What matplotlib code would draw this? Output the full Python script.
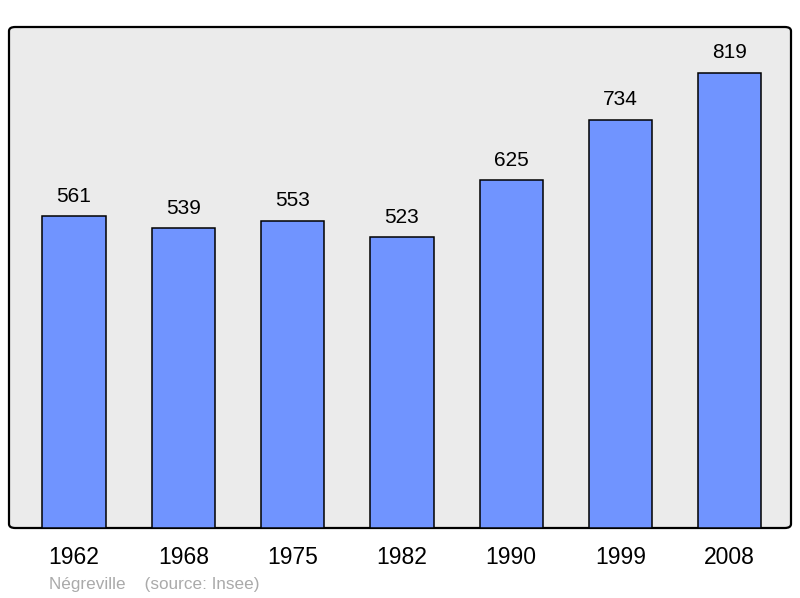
import matplotlib
matplotlib.use("Agg")
import matplotlib.pyplot as plt
from matplotlib.patches import FancyBboxPatch

years = ["1962", "1968", "1975", "1982", "1990", "1999", "2008"]
population = [561, 539, 553, 523, 625, 734, 819]
source_text = "Négreville    (source: Insee)"

plt.rcParams['font.family'] = ['Liberation Sans', 'DejaVu Sans']

fig = plt.figure(figsize=(8, 5.98), dpi=100)
ax = fig.add_axes([9/800, 70/598, 782/800, 501/598])
ax.set_facecolor('none')

frame = FancyBboxPatch((0, 0), 1, 1, boxstyle="round,pad=0,rounding_size=0.008",
                       transform=ax.transAxes, facecolor='#ebebeb', edgecolor='black',
                       linewidth=1.6, zorder=0, clip_on=False)
ax.add_patch(frame)

x = list(range(len(years)))
bars = ax.bar(x, population, width=0.58, color='#7094ff', edgecolor='black',
              linewidth=1.1, zorder=2)
for xi, v in zip(x, population):
    ax.annotate(str(v), (xi, v), xytext=(0, 7.5), textcoords='offset points',
                ha='center', va='bottom', fontsize=15, color='black')

ax.set_xlim(-0.595, 6.56)
ax.set_ylim(0, 901)
ax.set_xticks(x)
ax.set_xticklabels(years, fontsize=16.5)
ax.tick_params(axis='x', length=0, pad=13)
ax.set_yticks([])
for s in ax.spines.values():
    s.set_visible(False)

fig.text(49/800, 1 - 584/598, source_text, fontsize=12.3, color='#aaaaaa',
         ha='left', va='center')

fig.savefig('out.png', dpi=100)
